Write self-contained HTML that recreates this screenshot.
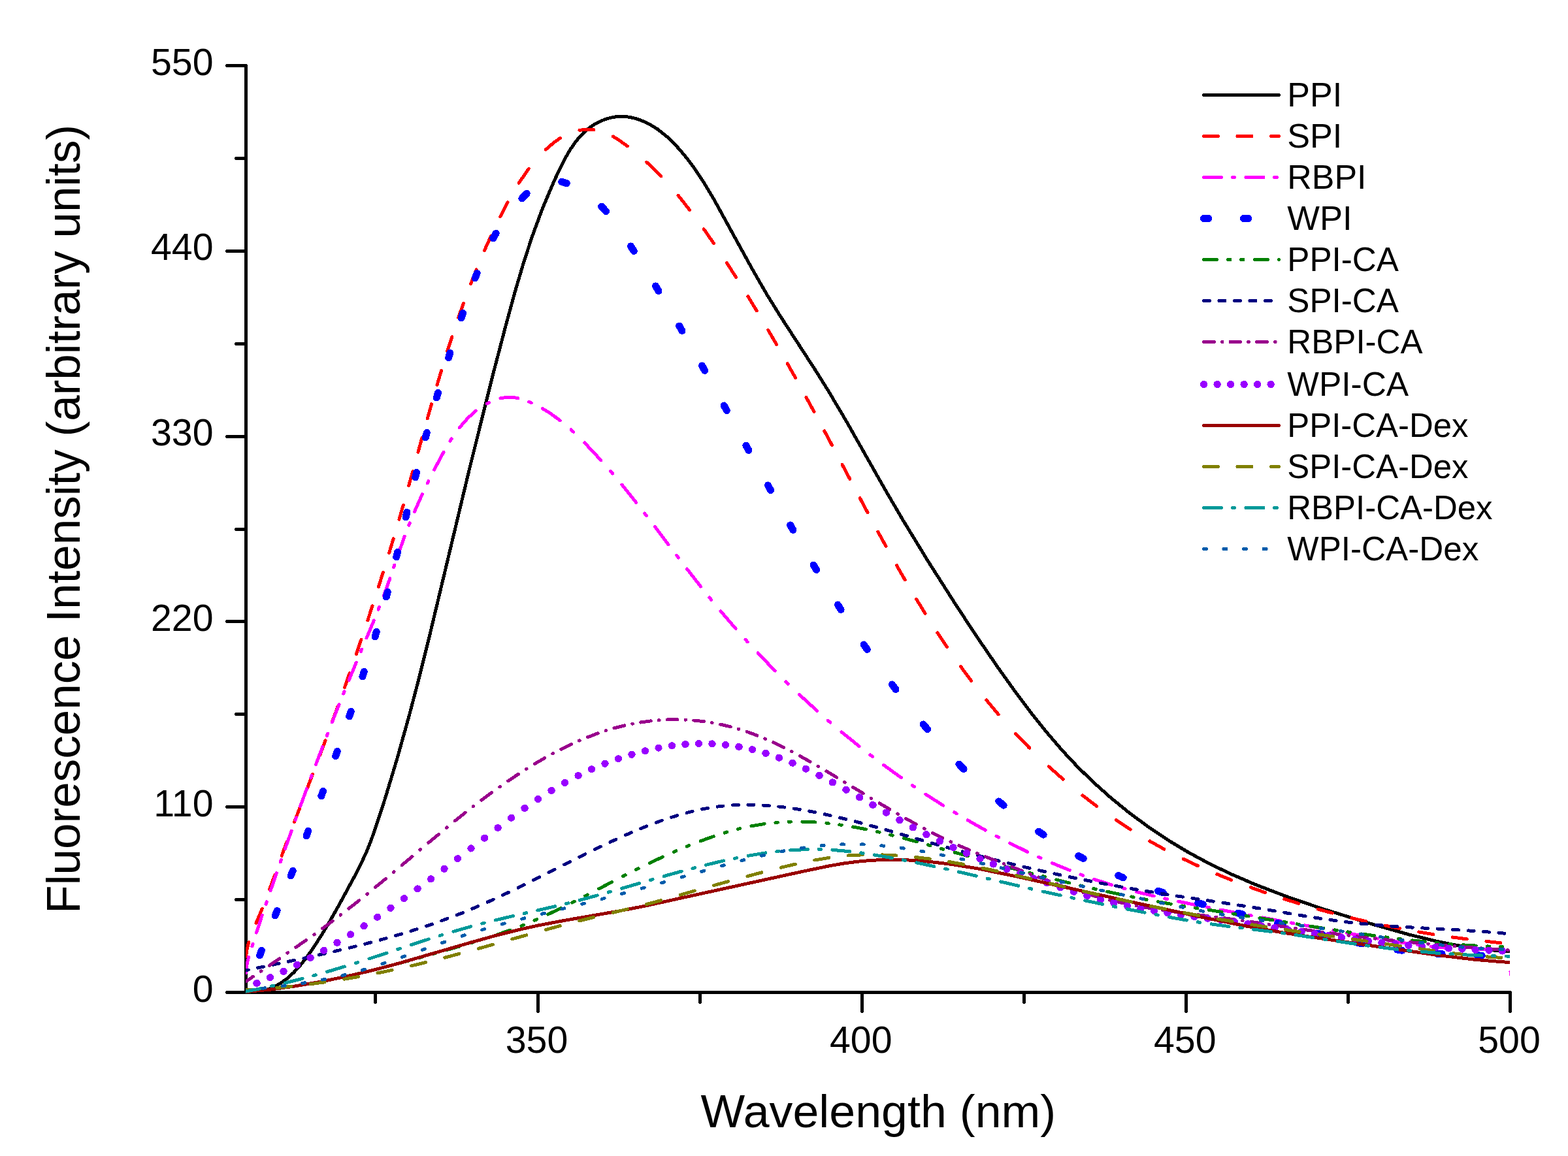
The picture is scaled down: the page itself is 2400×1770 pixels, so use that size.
<!DOCTYPE html>
<html lang="en">
<head>
<meta charset="utf-8">
<title>Fluorescence spectra</title>
<style>
html,body{margin:0;padding:0;background:#fff}
body{width:2400px;height:1770px;overflow:hidden}
svg{display:block}
text{font-family:"Liberation Sans",Arial,Helvetica,sans-serif;fill:#000}
.ax{stroke:#000;stroke-width:5;stroke-linecap:round;fill:none}
.c{fill:none;stroke-linecap:round;stroke-linejoin:round}
</style>
</head>
<body>
<svg width="2400" height="1770" viewBox="0 0 2400 1770">
<rect width="2400" height="1770" fill="#fff"/>
<defs><clipPath id="pc"><rect x="376" y="0" width="1935" height="1523"/></clipPath></defs>
<g class="ax" shape-rendering="crispEdges">
<path d="M376.5 100.5V1519.5H2311.5" stroke-linejoin="miter" stroke-linecap="butt"/>
<path d="M376.5 1519.5H347.5M376.5 1377.5H361.5M376.5 1235.5H347.5M376.5 1093.5H361.5M376.5 951.5H347.5M376.5 810.5H361.5M376.5 668.5H347.5M376.5 526.5H361.5M376.5 384.5H347.5M376.5 242.5H361.5M376.5 100.5H347.5M574.5 1519.5V1534.5M823.5 1519.5V1548.5M1071.5 1519.5V1534.5M1319.5 1519.5V1548.5M1567.5 1519.5V1534.5M1815.5 1519.5V1548.5M2063.5 1519.5V1534.5M2311.5 1519.5V1548.5"/>
</g>
<g clip-path="url(#pc)" shape-rendering="crispEdges">
<path class="c" stroke="#000000" stroke-width="5" d="M376.5 1519L387.5 1519.2L398.5 1518L409.5 1515.2L419.5 1511.1L429.5 1505.5L439.5 1498.2L449.5 1489.1L458.5 1479.4L468.5 1467L478.5 1452.9L490.5 1434.4L502.5 1414.6L518.5 1386.4L542.5 1342.2L552.5 1322.7L560.5 1305.3L566.5 1290.6L573.5 1271.5L589.5 1222.5L608.5 1159.4L626.5 1094.9L640.5 1041.6L655.5 981.8L718.5 718.1L754.5 573.6L774.5 497.1L788.5 446L801.5 402L814.5 362.2L830.5 318.8L847.5 278.5L857.5 257.3L865.5 241.6L872.5 229.5L879.5 219.1L886.5 210.3L894.5 202L902.5 195.4L910.5 190L919.5 185.3L929.5 181.6L939.5 179.2L948.5 178.3L955.5 178.4L962.5 179.2L969.5 180.6L977.5 182.9L985.5 186L992.5 189.3L1006.5 197.8L1020.5 208.9L1034.5 222.5L1048.5 238.7L1062.5 257.2L1077.5 279.8L1093.5 306.6L1151.5 412.2L1173.5 450.4L1194.5 484.3L1246.5 564.4L1268.5 599.5L1295.5 645.1L1354.5 749.2L1381.5 795.4L1420.5 859.3L1464.5 928.3L1496.5 976.8L1525.5 1019.2L1553.5 1058.4L1579.5 1093.1L1602.5 1121.8L1625.5 1148.6L1648.5 1173.2L1672.5 1196.7L1699.5 1220.9L1728.5 1244.6L1758.5 1266.7L1789.5 1287.4L1819.5 1305.4L1851.5 1322.6L1885.5 1338.9L1922.5 1354.8L1969.5 1372.8L2023.5 1391.3L2098.5 1414.5L2157.5 1431.2L2200.5 1441.6L2239.5 1449.2L2276.5 1454.3L2311.5 1457"/>
<path class="c" stroke="#ff0000" stroke-width="5" d="M376.5 1464.8L377.7 1455.4L380.7 1442.8M392 1413.3L401.3 1391.3M412.6 1361.8L420.6 1339.8M431.2 1310.3L439.3 1288.3M450.5 1258.8L458.9 1236.8M470.2 1207.3L478.6 1185.3M489.8 1155.8L498 1133.8M508.8 1104.3L516.8 1082.3M527.4 1052.8L535.1 1030.8M545.4 1001.3L552.9 979.3M562.8 949.8L570 927.8M579.5 898.3L586.4 876.3M595.6 846.8L602.2 824.8M610.9 795.3L617.3 773.3M625.6 743.8L631.7 721.8M639.9 692.3L646 670.3M654.2 640.8L660.5 618.8M669 589.3L675.6 567.3M684.7 537.8L691.8 515.8M701.7 486.3L709.4 464.3M720.5 434.8L729.2 412.8M741.6 383.3L751.5 361.3M765.7 331.8L777.1 309.8M794.2 280.3L809.3 258.3M835.4 228.9L848 218.1L857.4 211.4M886.9 199.3L899.5 198.1L908.9 198.7M938.4 209L947.8 214.8L960.4 223.8M989.9 248.4L1011.7 269.8M1038 299.3L1055.5 321.3M1077.3 350.8L1092.6 372.8M1112.3 402.3L1126.4 424.3M1144.8 453.8L1158.2 475.8M1175.7 505.3L1188.5 527.3M1205.3 556.8L1217.7 578.8M1234 608.3L1245.9 630.3M1261.8 659.8L1273.5 681.8M1289.1 711.3L1300.7 733.3M1316.3 762.8L1328 784.8M1343.9 814.3L1356 836.3M1372.5 865.8L1385.1 887.8M1402.6 917.3L1416.1 939.3M1434.9 968.8L1449.6 990.8M1470.3 1020.3L1486.5 1042.3M1509.7 1071.8L1528.1 1093.8M1554.6 1123.3L1575.8 1145.3M1605.3 1173.7L1627.3 1193.3M1656.8 1217.7L1678.8 1234.6M1708.3 1255.6L1730.3 1270M1759.8 1287.9L1781.8 1300.1M1811.3 1315.2L1833.3 1325.6M1862.8 1338.5L1884.8 1347.5M1914.3 1358.7L1936.3 1366.6M1965.8 1376.5L1987.8 1383.4M2017.3 1392.1L2039.3 1398.1M2068.8 1405.6L2090.8 1410.8M2120.3 1417.2L2142.3 1421.6M2171.8 1427L2193.8 1430.6M2223.3 1435L2245.3 1437.9M2274.8 1441.4L2296.8 1443.7"/>
<path class="c" stroke="#ff00ff" stroke-width="5" d="M376.5 1489.3L377.7 1477.6L380.6 1465.6M385.9 1448.8L387 1445.3M392.4 1428.2L401.3 1401.2M407 1384.4L408.2 1380.9M414.1 1363.7L423.4 1336.7M429.3 1319.9L430.5 1316.4M436.5 1299.3L446.1 1272.3M452.1 1255.5L453.4 1252M459.6 1234.8L469.5 1207.8M475.7 1191L477 1187.5M483.5 1170.4L493.8 1143.4M500.2 1126.6L501.6 1123.1M508.3 1105.9L519 1078.9M525.7 1062.1L527.1 1058.6M534.1 1041.5L545.2 1014.5M552.3 997.7L553.7 994.2M561 977L572.3 950M579.1 933.2L580.5 929.7M587.2 912.6L596.9 885.6M602.6 868.8L603.8 865.3M609.7 848.1L619.3 821.1M625.8 804.3L627.2 800.8M634.3 783.7L646.3 756.7M654.2 739.9L655.9 736.4M664.6 719.2L679 692.2M688.9 675.4L691.2 671.9M703.3 654.8L716.4 639.8L728.4 629M745.2 618L748.7 616.2M765.9 609.9L774.9 608.4L780.9 608.2L786.9 608.6L792.9 609.7M809.7 615.3L813.2 616.8M830.3 625.5L842.3 632.9L857.3 643.8M874.1 657.9L877.6 661.1M894.7 677.8L919.9 704.8M934.6 721.6L937.6 725.1M951.9 742.2L973.6 769.2M986.7 786L989.4 789.5M1002.6 806.7L1023 833.7M1035.8 850.5L1038.4 854M1051.5 871.1L1072.5 898.1M1086 914.9L1088.8 918.4M1103 935.6L1126.1 962.6M1141.1 979.4L1144.3 982.9M1160.1 1000L1186.1 1027M1202.9 1043.7L1206.4 1047.1M1223.5 1063.5L1250.5 1088.3M1267.3 1103.1L1270.8 1106.1M1288 1120.7L1315 1142.6M1331.8 1155.7L1335.3 1158.4M1352.4 1171.3L1379.4 1190.7M1396.2 1202.4L1399.7 1204.7M1416.9 1216.2L1443.9 1233.4M1460.7 1243.7L1464.2 1245.8M1481.3 1255.9L1508.3 1271.2M1525.1 1280.3L1528.6 1282.1M1545.8 1291L1572.8 1304.4M1589.6 1312.2L1593.1 1313.8M1610.2 1321.4L1637.2 1332.5M1654 1339L1657.5 1340.3M1674.7 1346.3L1701.7 1355M1718.5 1359.8L1722 1360.8M1739.1 1365.4L1766.1 1372M1782.9 1375.8L1786.4 1376.6M1803.6 1380.2L1830.6 1385.7M1847.4 1389L1850.9 1389.7M1868 1393L1895 1398.1M1911.8 1401.2L1915.3 1401.9M1932.5 1405L1959.5 1410M1976.3 1413L1979.8 1413.7M1996.9 1416.8L2023.9 1421.7M2040.7 1424.7L2044.2 1425.4M2061.4 1428.5L2088.4 1433.5M2105.2 1436.5L2108.7 1437.1M2125.8 1440.1L2152.8 1444.3M2169.6 1446.7L2173.1 1447.2M2190.3 1449.2L2217.3 1451.7M2234.1 1452.8L2237.6 1452.9M2254.7 1453.5L2281.7 1453.5M2298.5 1455.8L2302 1457.2"/>
<path class="c" stroke="#0000ff" stroke-width="11" d="M397.5 1462.9L400.4 1455.4M421.2 1401.9L424.1 1394.4M445.2 1340.9L448.2 1333.4M469 1279.9L471.8 1272.4M491.8 1218.9L494.5 1211.4M513.6 1157.9L516.3 1150.4M534.7 1096.9L537.2 1089.4M554.9 1035.9L557.3 1028.4M574 974.9L576.2 967.4M591.3 913.9L593.3 906.4M606.7 852.9L608.5 845.4M621.1 791.9L622.9 784.4M635.6 730.9L637.5 723.4M651.3 669.9L653.3 662.4M668.3 608.9L670.5 601.4M686.6 547.9L688.9 540.4M706 486.9L708.5 479.4M727.1 425.9L730.1 418.4M754.8 364.9L759.1 357.4M798.8 303.9L806.2 296.4M859.7 278.4L867.2 280.6M920.7 316L927.5 323.5M965.5 377L970.2 384.5M1003.5 438L1008 445.5M1039.7 499L1044 506.5M1074.5 560L1078.7 567.5M1108.3 621L1112.4 628.5M1141.8 682L1145.9 689.5M1175.4 743L1179.5 750.5M1209.6 804L1213.9 811.5M1245.1 865L1249.6 872.5M1282.4 926L1287.1 933.5M1322.2 987L1327.3 994.5M1365.4 1048L1371 1055.5M1413.2 1109L1419.5 1116.5M1467.8 1170L1475.2 1177.5M1528.7 1226.9L1536.2 1233.2M1589.7 1273.1L1597.2 1278.2M1650.7 1310.5L1658.2 1314.6M1711.7 1340.6L1719.2 1343.8M1772.7 1364.3L1780.2 1366.8M1833.7 1382.6L1841.2 1384.6M1894.7 1398.1L1902.2 1400M1955.7 1413.5L1963.2 1415.4M2016.7 1429.1L2024.2 1431M2077.7 1443.4L2085.2 1444.9M2138.7 1454.2L2146.2 1455.2M2199.7 1460.3L2207.2 1460.7M2260.7 1462.9L2268.2 1463.1"/>
<path class="c" stroke="#008000" stroke-width="5" d="M376.5 1518.6L392 1517.3M409 1515.6L412.5 1515.2M429 1513.1L432.5 1512.7M449.8 1510.2L469.8 1506.9M486.8 1503.9L490.3 1503.2M506.8 1500L510.3 1499.3M527.6 1495.6L547.6 1491M564.6 1486.9L568.1 1486.1M584.6 1481.9L588.1 1481M605.4 1476.4L625.4 1471M642.4 1466.3L645.9 1465.3M662.4 1460.7L665.9 1459.7M683.2 1454.8L703.2 1449M720.2 1444L723.7 1443M740.2 1437.9L743.7 1436.8M761 1431.1L781 1424.1M798 1417.6L801.5 1416.2M818 1409.3L821.5 1407.8M838.8 1400L858.8 1390.4M875.8 1382L879.3 1380.2M895.8 1371.7L899.3 1369.9M916.6 1360.9L936.6 1350.5M953.6 1341.7L957.1 1339.9M973.6 1331.6L977.1 1329.8M994.4 1321.4L1014.4 1312M1031.4 1304.4L1034.9 1302.9M1051.4 1296L1054.9 1294.5M1072.2 1287.8L1092.2 1280.6M1109.2 1275.1L1112.7 1274M1129.2 1269.5L1132.7 1268.6M1150 1264.8L1170 1261.5M1187 1259.6L1190.5 1259.3M1207 1258.4L1210.5 1258.3M1227.8 1258.2L1247.8 1259M1264.8 1260.4L1268.3 1260.7M1284.8 1262.8L1288.3 1263.3M1305.6 1266L1325.6 1269.8M1342.6 1273.5L1346.1 1274.3M1362.6 1278.2L1366.1 1279.1M1383.4 1283.5L1403.4 1288.9M1420.4 1293.6L1423.9 1294.6M1440.4 1299.3L1443.9 1300.3M1461.2 1305.1L1481.2 1310.8M1498.2 1315.5L1501.7 1316.5M1518.2 1321L1521.7 1322M1539 1326.7L1559 1332.1M1576 1336.6L1579.5 1337.5M1596 1341.7L1599.5 1342.6M1616.8 1347L1636.8 1351.9M1653.8 1356L1657.3 1356.8M1673.8 1360.6L1677.3 1361.4M1694.6 1365.2L1714.6 1369.4M1731.6 1372.9L1735.1 1373.6M1751.6 1376.8L1755.1 1377.5M1772.4 1380.7L1792.4 1384.2M1809.4 1387L1812.9 1387.5M1829.4 1390.1L1832.9 1390.7M1850.2 1393.3L1870.2 1396.4M1887.2 1399.1L1890.7 1399.7M1907.2 1402.3L1910.7 1402.8M1928 1405.6L1948 1408.9M1965 1411.6L1968.5 1412.2M1985 1414.9L1988.5 1415.4M2005.8 1418.2L2025.8 1421.3M2042.8 1423.9L2046.3 1424.4M2062.8 1426.9L2066.3 1427.4M2083.6 1429.9L2103.6 1432.7M2120.6 1434.9L2124.1 1435.3M2140.6 1437.4L2144.1 1437.8M2161.4 1439.8L2181.4 1441.9M2198.4 1443.6L2201.9 1443.9M2218.4 1445.3L2221.9 1445.6M2239.2 1446.8L2259.2 1448.1M2276.2 1448.9L2279.7 1449.1M2296.2 1449.6L2299.7 1449.7"/>
<path class="c" stroke="#000080" stroke-width="5" d="M376.5 1485.7L380.1 1485M394.5 1482L403.5 1480.1M418 1477.1L427 1475.2M441.4 1472.2L450.4 1470.3M464.9 1467.2L473.9 1465.3M488.3 1462.1L497.3 1460M511.8 1456.7L520.8 1454.6M535.2 1451.2L544.2 1449M558.7 1445.3L567.7 1443M582.1 1439.1L591.1 1436.7M605.6 1432.6L614.6 1429.9M629 1425.5L638 1422.7M652.5 1418L661.5 1414.9M675.9 1409.8L684.9 1406.5M699.4 1401L708.4 1397.5M722.8 1391.5L731.8 1387.6M746.2 1381.3L755.2 1377.2M769.7 1370.5L778.7 1366.2M793.1 1359.2L802.1 1354.7M816.6 1347.6L825.6 1343M840 1335.8L849 1331.2M863.5 1323.9L872.5 1319.4M886.9 1312.1L895.9 1307.6M910.4 1300.6L919.4 1296.2M933.9 1289.4L942.9 1285.2M957.3 1278.7L966.3 1274.7M980.8 1268.6L989.8 1265M1004.2 1259.5L1013.2 1256.2M1027.7 1251.4L1036.7 1248.6M1051.1 1244.5L1060.1 1242.2M1074.6 1239L1083.6 1237.3M1098 1235.1L1107 1234.1M1121.5 1232.9L1130.5 1232.5M1144.9 1232.3L1153.9 1232.4M1168.4 1233.1L1177.4 1233.7M1191.8 1235L1200.8 1236.1M1215.3 1238.1L1224.3 1239.5M1238.7 1242L1247.7 1243.7M1262.2 1246.7L1271.2 1248.7M1285.6 1252L1294.6 1254.2M1309.1 1257.8L1318.1 1260.2M1332.5 1264.1L1341.5 1266.6M1356 1270.6L1365 1273.2M1379.4 1277.4L1388.4 1280M1402.9 1284.2L1411.9 1286.8M1426.3 1290.9L1435.3 1293.5M1449.8 1297.5L1458.8 1300M1473.2 1303.9L1482.2 1306.2M1496.7 1310L1505.7 1312.3M1520.1 1316L1529.1 1318.2M1543.6 1321.7L1552.6 1323.9M1567 1327.3L1576 1329.4M1590.5 1332.7L1599.5 1334.7M1613.9 1337.8L1622.9 1339.7M1637.4 1342.8L1646.4 1344.6M1660.8 1347.5L1669.8 1349.3M1684.3 1352.1L1693.3 1353.8M1707.7 1356.4L1716.7 1358.1M1731.2 1360.6L1740.2 1362.1M1754.6 1364.5L1763.6 1366M1778.1 1368.3L1787.1 1369.7M1801.5 1371.9L1810.5 1373.2M1825 1375.4L1834 1376.7M1848.4 1378.8L1857.4 1380.2M1871.9 1382.3L1880.9 1383.7M1895.3 1385.9L1904.3 1387.3M1918.8 1389.6L1927.8 1391M1942.2 1393.4L1951.2 1394.9M1965.7 1397.3L1974.7 1398.9M1989.1 1401.3L1998.1 1402.7M2012.6 1405L2021.6 1406.4M2036 1408.5L2045 1409.7M2059.5 1411.6L2068.5 1412.6M2082.9 1414.2L2091.9 1415M2106.4 1416.3L2115.4 1417M2129.8 1418.1L2138.8 1418.7M2153.3 1419.6L2162.3 1420.1M2176.7 1420.9L2185.7 1421.4M2200.2 1422.2L2209.2 1422.7M2223.6 1423.5L2232.6 1424M2247.1 1424.9L2256.1 1425.4M2270.5 1426.5L2279.5 1427.1M2294 1428.3L2303 1429.2"/>
<path class="c" stroke="#99008c" stroke-width="5" d="M376.5 1502.7L387.3 1495.3M399.3 1487.1L400 1486.7M412.2 1478.4L427.9 1467.7M439.9 1459.4L440.6 1458.9M452.8 1450.5L468.5 1439.5M480.5 1431L481.2 1430.5M493.4 1421.7L509.1 1410.1M521.1 1401.1L521.8 1400.5M534 1391.1L549.7 1378.7M561.7 1369.1L562.4 1368.5M574.6 1358.5L590.3 1345.5M602.3 1335.5L603 1334.9M615.2 1324.7L630.9 1311.4M642.9 1301.3L643.6 1300.7M655.8 1290.4L671.5 1277.3M683.5 1267.4L684.2 1266.8M696.4 1256.9L712.1 1244.3M724.1 1234.9L724.8 1234.4M737 1225.1L752.7 1213.4M764.7 1204.8L765.4 1204.3M777.6 1195.8L793.3 1185.3M805.3 1177.6L806 1177.1M818.2 1169.7L833.9 1160.5M845.9 1153.9L846.6 1153.5M858.8 1147.2L874.5 1139.5M886.5 1134.1L887.2 1133.8M899.4 1128.8L915.1 1122.8M927.1 1118.8L927.9 1118.6M940 1114.9L955.8 1110.9M967.8 1108.3L968.5 1108.1M980.6 1106L996.4 1103.8M1008.4 1102.7L1009.1 1102.7M1021.2 1102L1037 1101.7M1049 1102.1L1049.7 1102.1M1061.8 1103L1077.6 1104.7M1089.6 1106.6L1090.2 1106.7M1102.5 1109.1L1118.2 1112.8M1130.2 1116.2L1130.9 1116.4M1143.1 1120.3L1158.8 1126.1M1170.8 1131L1171.5 1131.3M1183.7 1136.7L1199.4 1144.3M1211.4 1150.5L1212.1 1150.8M1224.2 1157.4L1240 1166.3M1252 1173.2L1252.7 1173.6M1264.9 1180.8L1280.6 1190.2M1292.6 1197.5L1293.3 1197.9M1305.5 1205.3L1321.2 1214.8M1333.2 1222.1L1333.9 1222.5M1346.1 1229.8L1361.8 1239.1M1373.8 1246.1L1374.5 1246.5M1386.7 1253.4L1402.4 1262.1M1414.4 1268.6L1415.1 1269M1427.3 1275.3L1443 1283.1M1455 1288.9L1455.7 1289.2M1467.9 1294.7L1483.6 1301.5M1495.6 1306.5L1496.3 1306.8M1508.5 1311.8L1524.2 1318M1536.2 1322.6L1536.9 1322.9M1549 1327.5L1564.8 1333.5M1576.8 1338.1L1577.5 1338.3M1589.6 1342.9L1605.3 1348.7M1617.3 1353.1L1618 1353.3M1630.2 1357.6L1645.9 1362.8M1657.9 1366.7L1658.6 1366.9M1670.8 1370.6L1686.5 1375M1698.5 1378.1L1699.2 1378.3M1711.4 1381.2L1727.1 1384.5M1739.1 1386.9L1739.8 1387M1752 1389.2L1767.7 1391.8M1779.7 1393.6L1780.4 1393.7M1792.6 1395.4L1808.3 1397.5M1820.3 1399.1L1821 1399.2M1833.2 1400.7L1848.9 1402.6M1860.9 1404.2L1861.6 1404.2M1873.8 1405.8L1889.5 1407.9M1901.5 1409.6L1902.2 1409.7M1914.4 1411.4L1930.1 1413.7M1942.1 1415.5L1942.8 1415.6M1955 1417.4L1970.7 1419.7M1982.7 1421.5L1983.4 1421.6M1995.6 1423.3L2011.3 1425.5M2023.3 1427.1L2024 1427.2M2036.2 1428.8L2051.9 1430.9M2063.9 1432.3L2064.6 1432.4M2076.8 1433.9L2092.5 1435.7M2104.5 1437.1L2105.2 1437.1M2117.4 1438.5L2133.1 1440.1M2145.1 1441.3L2145.8 1441.4M2158 1442.6L2173.7 1444.1M2185.7 1445.2L2186.4 1445.3M2198.6 1446.4L2214.3 1447.7M2226.3 1448.7L2227 1448.8M2239.2 1449.8L2254.9 1451M2266.9 1451.9L2267.6 1452M2279.8 1452.8L2295.5 1453.9M2307.5 1454.7L2308.2 1454.8"/>
<path class="c" stroke="#9900ff" stroke-width="11" d="M392.9 1505.5L393.2 1505.4M413.4 1496.8L413.7 1496.6M433.9 1487.4L434.2 1487.2M454.4 1477.3L454.7 1477.1M474.9 1466.6L475.2 1466.4M495.4 1455.3L495.7 1455.1M515.9 1443.4L516.2 1443.2M536.4 1430.9L536.7 1430.7M556.9 1417.9L557.2 1417.7M577.4 1404.3L577.7 1404.1M597.9 1390.3L598.2 1390.1M618.4 1375.8L618.7 1375.6M638.9 1361L639.2 1360.8M659.4 1345.9L659.7 1345.7M679.9 1330.5L680.2 1330.2M700.4 1314.8L700.7 1314.6M720.9 1299.1L721.2 1298.8M741.4 1283.3L741.7 1283M761.9 1267.6L762.2 1267.4M782.4 1252.3L782.7 1252.1M802.9 1237.5L803.2 1237.3M823.4 1223.6L823.7 1223.4M843.9 1210.5L844.2 1210.3M864.4 1198.5L864.7 1198.3M884.9 1187.6L885.2 1187.4M905.4 1177.9L905.6 1177.7M925.9 1169.3L926.1 1169.2M946.4 1161.8L946.6 1161.7M966.9 1155.3L967.1 1155.2M987.4 1149.7L987.6 1149.7M1007.9 1145.2L1008.1 1145.2M1028.3 1141.8L1028.7 1141.8M1048.8 1139.6L1049.2 1139.5M1069.3 1138.5L1069.7 1138.5M1089.8 1138.8L1090.2 1138.8M1110.3 1140.4L1110.7 1140.5M1130.8 1143.3L1131.2 1143.4M1151.3 1147.6L1151.7 1147.7M1171.8 1153.2L1172.2 1153.3M1192.3 1160.1L1192.7 1160.2M1212.8 1168.1L1213.2 1168.2M1233.3 1177.2L1233.7 1177.3M1253.8 1187.2L1254.2 1187.3M1274.3 1197.9L1274.7 1198M1294.8 1209.1L1295.2 1209.3M1315.3 1220.7L1315.7 1220.9M1335.8 1232.4L1336.2 1232.6M1356.3 1244.1L1356.7 1244.3M1376.8 1255.7L1377.2 1255.8M1397.3 1266.9L1397.7 1267M1417.8 1277.6L1418.1 1277.8M1438.3 1287.8L1438.6 1288M1458.8 1297.5L1459.1 1297.6M1479.3 1306.5L1479.6 1306.6M1499.8 1315L1500.1 1315.1M1520.3 1323L1520.6 1323.1M1540.8 1330.6L1541.1 1330.7M1561.3 1337.8L1561.6 1337.9M1581.8 1344.9L1582.1 1345M1602.3 1351.8L1602.6 1351.9M1622.8 1358.6L1623.1 1358.7M1643.3 1365.3L1643.6 1365.4M1663.8 1371.5L1664.1 1371.6M1684.3 1377.3L1684.6 1377.4M1704.8 1382.4L1705.1 1382.4M1725.3 1386.9L1725.6 1386.9M1745.8 1390.9L1746.1 1390.9M1766.3 1394.5L1766.6 1394.5M1786.8 1397.7L1787.1 1397.8M1807.3 1400.7L1807.6 1400.8M1827.8 1403.5L1828.1 1403.6M1848.3 1406.3L1848.6 1406.3M1868.8 1409L1869.1 1409M1889.3 1411.8L1889.6 1411.8M1909.8 1414.6L1910.1 1414.7M1930.3 1417.6L1930.6 1417.7M1950.8 1420.6L1951.1 1420.7M1971.3 1423.7L1971.6 1423.7M1991.8 1426.7L1992.1 1426.8M2012.3 1429.8L2012.6 1429.8M2032.8 1432.7L2033.1 1432.8M2053.3 1435.6L2053.6 1435.6M2073.8 1438.3L2074.1 1438.4M2094.3 1440.9L2094.6 1441M2114.8 1443.3L2115.1 1443.4M2135.3 1445.5L2135.6 1445.6M2155.8 1447.5L2156.1 1447.5M2176.3 1449.2L2176.6 1449.2M2196.8 1450.7L2197.1 1450.7M2217.3 1452L2217.6 1452M2237.8 1453.1L2238.1 1453.1M2258.3 1454.1L2258.6 1454.2M2278.8 1455.1L2279.1 1455.1M2299.3 1456L2299.6 1456"/>
<path class="c" stroke="#990000" stroke-width="5" d="M376.5 1518.6L414.5 1515L454.5 1509.5L495.5 1502.3L537.5 1493.5L572.5 1485.1L609.5 1475.3L720.5 1443.1L757.5 1432.8L791.5 1424.2L822.5 1417.2L861.5 1409.8L946.5 1395.1L986.5 1387.3L1224.5 1335.2L1268.5 1326L1291.5 1322L1312.5 1319.2L1332.5 1317.4L1353.5 1316.4L1386.5 1316.7L1420.5 1319.1L1456.5 1323.4L1496.5 1329.9L1556.5 1342.1L1746.5 1384.2L1842.5 1404.9L1907.5 1418L1962.5 1427.8L2018.5 1436.4L2201.5 1462.6L2260.5 1469.6L2311.5 1473.7"/>
<path class="c" stroke="#808000" stroke-width="5" d="M376.5 1516L394.2 1514.9M423.7 1512.5L445.7 1510.3M475.1 1506.8L497.1 1503.8M526.6 1499.2L548.6 1495.5M578 1489.9L600 1485.4M629.5 1478.9L651.5 1473.6M680.9 1466.2L702.9 1460.4M732.4 1452.4L754.4 1446.2M783.8 1437.9L805.8 1431.8M835.3 1423.6L857.3 1417.6M886.7 1409.9L908.7 1404.4M938.2 1397.3L960.2 1392M989.6 1384.6L1011.6 1378.7M1041.1 1370.3L1063.1 1364M1092.6 1355.7L1114.6 1349.7M1144 1341.7L1166 1335.8M1195.5 1328.3L1217.5 1323.1M1246.9 1317L1268.9 1313.4M1298.4 1310L1320.4 1308.8M1349.8 1308.9L1371.8 1309.9M1401.3 1312.5L1423.3 1315.1M1452.7 1319.5L1474.7 1323.4M1504.2 1329.2L1526.2 1333.9M1555.6 1340.5L1577.6 1345.7M1607.1 1352.6L1629.1 1357.8M1658.5 1364.7L1680.5 1369.7M1710 1376.3L1732 1381M1761.4 1387.3L1783.4 1391.8M1812.9 1397.6L1834.9 1401.7M1864.3 1407.1L1886.3 1410.8M1915.8 1415.7L1937.8 1419.1M1967.2 1423.5L1989.2 1426.7M2018.7 1430.9L2040.7 1434M2070.1 1438.1L2092.1 1441.2M2121.6 1445.4L2143.6 1448.5M2173 1452.8L2195 1455.9M2224.5 1459.7L2246.5 1462.2M2275.9 1464.9L2297.9 1466.4"/>
<path class="c" stroke="#009999" stroke-width="5" d="M376.5 1518L398.6 1513.7M415.4 1510L418.9 1509.3M436.1 1505.2L463.1 1498.4M479.9 1493.8L483.4 1492.8M500.5 1488L527.5 1479.9M544.3 1474.7L547.8 1473.6M565 1468L592 1459.1M608.8 1453.5L612.3 1452.3M629.4 1446.6L656.4 1437.9M673.2 1432.6L676.7 1431.5M693.9 1426.3L720.9 1418.6M737.7 1414.1L741.2 1413.2M758.3 1408.9L785.3 1402.5M802.1 1398.6L805.6 1397.8M822.8 1393.9L849.8 1387.7M866.6 1383.6L870.1 1382.7M887.2 1378.3L914.2 1371M931 1366.2L934.5 1365.2M951.7 1360.3L978.7 1352.4M995.5 1347.6L999 1346.5M1016.1 1341.6L1043.1 1334.1M1059.9 1329.6L1063.4 1328.7M1080.6 1324.3L1107.6 1317.9M1124.4 1314.3L1127.9 1313.6M1145 1310.3L1172 1305.9M1188.8 1303.8L1192.3 1303.4M1209.5 1301.8L1236.5 1300.5M1253.3 1300.4L1256.8 1300.5M1273.9 1301.3L1300.9 1303.8M1317.7 1305.9L1321.2 1306.4M1338.4 1309L1365.4 1313.7M1382.2 1316.8L1385.7 1317.5M1402.8 1320.9L1429.8 1326.6M1446.6 1330.3L1450.1 1331M1467.3 1334.9L1494.3 1341.2M1511.1 1345.1L1514.6 1345.9M1531.7 1350L1558.7 1356.3M1575.5 1360.2L1579 1361.1M1596.2 1365L1623.2 1370.9M1640 1374.5L1643.5 1375.3M1660.6 1378.9L1687.6 1384.4M1704.4 1387.8L1707.9 1388.5M1725.1 1391.9L1752.1 1397.2M1768.9 1400.4L1772.4 1401.1M1789.5 1404.3L1816.5 1409.1M1833.3 1411.8L1836.8 1412.4M1854 1414.9L1881 1418.5M1897.8 1420.6L1901.3 1421M1918.4 1423.1L1945.4 1426.4M1962.2 1428.6L1965.7 1429.1M1982.9 1431.5L2009.9 1435.6M2026.7 1438.1L2030.2 1438.7M2047.3 1441.3L2074.3 1445.3M2091.1 1447.7L2094.6 1448.2M2111.8 1450.4L2138.8 1453.6M2155.6 1455.3L2159.1 1455.7M2176.2 1457.3L2203.2 1459.5M2220 1460.6L2223.5 1460.9M2240.7 1461.8L2267.7 1463M2284.5 1463.6L2288 1463.7M2305.1 1464L2311.5 1464.1"/>
<path class="c" stroke="#005cab" stroke-width="5" d="M401.8 1513.3L405.8 1512.8M432.3 1509.6L436.3 1509.1M462.8 1505.4L466.8 1504.8M493.4 1500.1L497.4 1499.4M524 1493.6L528 1492.6M554.5 1485.4L558.5 1484.2M585 1475.9L589 1474.5M615.6 1465.4L619.6 1464M646.2 1454.5L650.2 1453M676.7 1443.6L680.7 1442.2M707.2 1433.2L711.2 1431.9M737.8 1423.7L741.8 1422.5M768.4 1415L772.4 1413.9M798.9 1407L802.9 1405.9M829.5 1399.3L833.5 1398.3M860 1391.8L864 1390.8M890.6 1384.2L894.6 1383.2M921.1 1376.5L925.1 1375.4M951.6 1368.5L955.6 1367.4M982.2 1360.2L986.2 1359.1M1012.7 1351.7L1016.7 1350.6M1043.3 1343.1L1047.3 1341.9M1073.8 1334.4L1077.8 1333.3M1104.4 1325.9L1108.4 1324.8M1134.9 1317.7L1138.9 1316.7M1165.5 1310.2L1169.5 1309.3M1196 1303.7L1200 1302.9M1226.6 1298.5L1230.6 1297.9M1257.1 1294.8L1261.1 1294.5M1287.7 1292.9L1291.7 1292.8M1318.2 1292.9L1322.2 1293M1348.8 1294.8L1352.8 1295.2M1379.3 1298.4L1383.3 1299M1409.9 1303.2L1413.9 1303.9M1440.4 1308.9L1444.4 1309.7M1471 1315.1L1475 1316M1501.5 1321.8L1505.5 1322.7M1532.1 1328.8L1536.1 1329.7M1562.6 1336L1566.6 1336.9M1593.2 1343.1L1597.2 1344M1623.7 1350L1627.7 1350.9M1654.3 1356.7L1658.3 1357.5M1684.8 1363.1L1688.8 1363.9M1715.4 1369.4L1719.4 1370.3M1745.9 1375.8L1749.9 1376.7M1776.5 1382.3L1780.5 1383.1M1807 1388.6L1811 1389.4M1837.6 1394.6L1841.6 1395.3M1868.1 1399.9L1872.1 1400.5M1898.7 1404.6L1902.7 1405.2M1929.2 1408.9L1933.2 1409.5M1959.8 1413L1963.8 1413.6M1990.3 1417.1L1994.3 1417.6M2020.9 1421.2L2024.9 1421.8M2051.4 1425.6L2055.4 1426.2M2082 1430.1L2086 1430.7M2112.5 1434.6L2116.5 1435.2M2143.1 1439L2147.1 1439.5M2173.6 1443.1L2177.6 1443.6M2204.2 1446.7L2208.2 1447.1M2234.7 1449.8L2238.7 1450.1M2265.3 1452.1L2269.3 1452.4M2295.8 1453.6L2299.8 1453.7"/>
<path class="c" stroke="#ff00ff" stroke-width="3" d="M2311 1487.5V1492.5"/>
</g>
<g shape-rendering="crispEdges">
<path class="c" stroke="#000000" stroke-width="5" d="M1842.5 145.5H1957.8"/>
<path class="c" stroke="#ff0000" stroke-width="5" d="M1842.5 208.5H1864.5M1894 208.5H1916M1945.5 208.5H1957.8"/>
<path class="c" stroke="#ff00ff" stroke-width="5" d="M1842.5 271.5H1869.5M1886.3 271.5H1889.8M1907 271.5H1934M1950.8 271.5H1954.2"/>
<path class="c" stroke="#0000ff" stroke-width="11" d="M1842.5 334.5H1850M1903.5 334.5H1911"/>
<path class="c" stroke="#008000" stroke-width="5" d="M1842.5 397.5H1862.5M1879.5 397.5H1883M1899.5 397.5H1903M1920.3 397.5H1940.3M1957.3 397.5H1957.8"/>
<path class="c" stroke="#000080" stroke-width="5" d="M1842.5 460.5H1851.5M1866 460.5H1875M1889.4 460.5H1898.4M1912.9 460.5H1921.9M1936.3 460.5H1945.3"/>
<path class="c" stroke="#99008c" stroke-width="5" d="M1842.5 523.5H1858.2M1870.2 523.5H1870.9M1883.1 523.5H1898.8M1910.8 523.5H1911.5M1923.7 523.5H1939.4M1951.4 523.5H1952.1"/>
<path class="c" stroke="#9900ff" stroke-width="11" d="M1842.5 588.5H1842.8M1863 588.5H1863.3M1883.5 588.5H1883.8M1904 588.5H1904.3M1924.5 588.5H1924.8M1945 588.5H1945.3"/>
<path class="c" stroke="#990000" stroke-width="5" d="M1842.5 651.5H1957.8"/>
<path class="c" stroke="#808000" stroke-width="5" d="M1842.5 714.5H1864.5M1894 714.5H1916M1945.4 714.5H1957.8"/>
<path class="c" stroke="#009999" stroke-width="5" d="M1842.5 777.5H1869.5M1886.3 777.5H1889.8M1907 777.5H1934M1950.8 777.5H1954.2"/>
<path class="c" stroke="#005cab" stroke-width="5" d="M1842.5 840.5H1846.5M1873 840.5H1877M1903.6 840.5H1907.6M1934.1 840.5H1938.1"/>
</g>
<g>
<text transform="translate(1970.3 162.8)" font-size="52.0">PPI</text>
<text transform="translate(1970.3 225.8) scale(1.0030 1)" font-size="52.0">SPI</text>
<text transform="translate(1970.3 288.8) scale(0.9990 1)" font-size="52.0">RBPI</text>
<text transform="translate(1970.3 351.8) scale(1.0120 1)" font-size="52.0">WPI</text>
<text transform="translate(1970.3 414.8) scale(0.9840 1)" font-size="52.0">PPI-CA</text>
<text transform="translate(1970.3 477.8) scale(0.9840 1)" font-size="52.0">SPI-CA</text>
<text transform="translate(1970.3 540.8) scale(0.9830 1)" font-size="52.0">RBPI-CA</text>
<text transform="translate(1970.3 605.8) scale(0.9900 1)" font-size="52.0">WPI-CA</text>
<text transform="translate(1970.3 668.8) scale(0.9790 1)" font-size="52.0">PPI-CA-Dex</text>
<text transform="translate(1970.3 731.8) scale(0.9790 1)" font-size="52.0">SPI-CA-Dex</text>
<text transform="translate(1970.3 794.8) scale(0.9800 1)" font-size="52.0">RBPI-CA-Dex</text>
<text transform="translate(1970.3 857.8) scale(0.9850 1)" font-size="52.0">WPI-CA-Dex</text>
<text transform="translate(326.5 1533.5) scale(1.0120 1)" font-size="56.6" text-anchor="end">0</text>
<text transform="translate(326.5 1249.7) scale(1.0120 1)" font-size="56.6" text-anchor="end">110</text>
<text transform="translate(326.5 965.9) scale(1.0120 1)" font-size="56.6" text-anchor="end">220</text>
<text transform="translate(326.5 682.1) scale(1.0120 1)" font-size="56.6" text-anchor="end">330</text>
<text transform="translate(326.5 398.3) scale(1.0120 1)" font-size="56.6" text-anchor="end">440</text>
<text transform="translate(326.5 114.5) scale(1.0120 1)" font-size="56.6" text-anchor="end">550</text>
<text transform="translate(821.5 1611.5) scale(1.0120 1)" font-size="56.6" text-anchor="middle">350</text>
<text transform="translate(1317.7 1611.5) scale(1.0120 1)" font-size="56.6" text-anchor="middle">400</text>
<text transform="translate(1813.8 1611.5) scale(1.0120 1)" font-size="56.6" text-anchor="middle">450</text>
<text transform="translate(2310 1611.5) scale(1.0120 1)" font-size="56.6" text-anchor="middle">500</text>
<text transform="translate(1344.4 1725.9) scale(1.0077 1)" font-size="71.2" text-anchor="middle">Wavelength (nm)</text>
<text transform="translate(122 794.8) rotate(-90) scale(0.9757 1)" font-size="72.8" text-anchor="middle">Fluorescence Intensity (arbitrary units)</text>
</g>
</svg>
</body>
</html>
